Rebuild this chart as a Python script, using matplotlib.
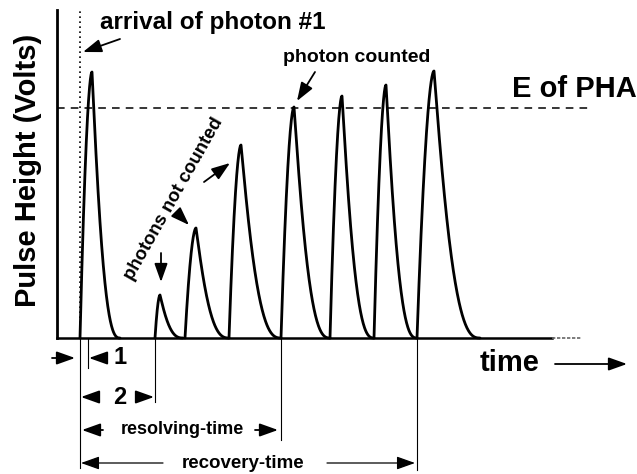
import numpy as np
import matplotlib.pyplot as plt

plt.rcParams['font.family'] = ['Liberation Sans', 'DejaVu Sans']
plt.rcParams['font.weight'] = 'bold'

# pulse data (time units, height units)
pulse_start = [2.3, 9.8, 12.8, 17.2, 22.4, 27.3, 31.7, 36.0]
pulse_peak = [3.5, 10.3, 13.9, 18.4, 23.7, 28.5, 32.9, 37.7]
pulse_end = [6.3, 12.6, 17.2, 22.4, 27.3, 31.7, 36.0, 42.3]
pulse_height = [26.6, 4.3, 11.0, 19.3, 23.1, 24.2, 25.3, 26.7]

threshold = 23.0          # E of PHA
arrival_time = 2.3        # photon #1
dead_time_1 = 3.1         # end of interval 1
dead_time_2 = 9.8         # end of interval 2
resolving_time = 22.4
recovery_time = 36.0


# Форма одного імпульсу: швидкий ріст, спад до нуля
def pulse_curve(t0, tp, t1, h):
    tr = np.linspace(t0, tp, 60)
    u = (tp - tr) / (tp - t0)
    vr = h * (1 - u ** 1.8)
    tf = np.linspace(tp, t1, 120)
    s = (tf - tp) / (t1 - tp)
    vf = h * (1 - s ** 1.06) ** 2.7
    return np.concatenate([tr, tf]), np.concatenate([vr, vf])


def arrow(ax, x0, y0, x1, y1, lw=1.3, scale=16):
    ax.annotate("", xy=(x1, y1), xytext=(x0, y0),
                arrowprops=dict(arrowstyle="-|>,head_length=0.7,head_width=0.25",
                                color="black", lw=lw, mutation_scale=scale,
                                shrinkA=0, shrinkB=0),
                annotation_clip=False)


fig = plt.figure(figsize=(6.37, 4.74), dpi=100)
ax = fig.add_axes([57 / 637, 136 / 474, 580 / 637, 338 / 474])
ax.set_xlim(0, 58)
ax.set_ylim(0, 33.8)
ax.axis("off")

# осі
ax.plot([0, 0], [0, 32.8], color="black", lw=2.0, clip_on=False)
ax.plot([0, 49.5], [0, 0], color="black", lw=1.8, clip_on=False)
ax.plot([49.5, 52.5], [0, 0], color="0.4", lw=1.2, ls=(0, (2, 1)), clip_on=False)

# поріг і момент приходу фотона
ax.plot([0, 53.6], [threshold, threshold], color="black", lw=1.1,
        ls=(0, (5, 4)), clip_on=False)
ax.plot([arrival_time, arrival_time], [0, 32.8], color="black", lw=1.2,
        ls=(0, (1, 2)), clip_on=False)

# імпульси
for t0, tp, t1, h in zip(pulse_start, pulse_peak, pulse_end, pulse_height):
    t, v = pulse_curve(t0, tp, t1, h)
    ax.plot(t, v, color="black", lw=2.0, solid_capstyle="round",
            solid_joinstyle="round", clip_on=False)

# вертикальні мітки під віссю
ax.plot([arrival_time, arrival_time], [0, -13.0], color="black", lw=0.8, clip_on=False)
ax.plot([dead_time_1, dead_time_1], [0, -3.0], color="black", lw=0.8, clip_on=False)
ax.plot([dead_time_2, dead_time_2], [0, -6.4], color="black", lw=0.8, clip_on=False)
ax.plot([resolving_time, resolving_time], [0, -10.2], color="black", lw=0.8, clip_on=False)
ax.plot([recovery_time, recovery_time], [0, -13.2], color="black", lw=0.8, clip_on=False)

# підписи
ax.text(4.3, 31.6, "arrival of photon #1", fontsize=17.5, ha="left", va="center")
arrow(ax, 6.3, 29.9, 2.6, 28.6)
ax.text(22.6, 28.0, "photon counted", fontsize=14, ha="left", va="center")
arrow(ax, 25.8, 26.6, 24.0, 23.7)
ax.text(45.5, 24.9, "E of PHA", fontsize=21, ha="left", va="center")
ax.text(11.7, 13.9, "photons not counted", fontsize=13.3, rotation=60.5,
        rotation_mode="anchor", ha="center", va="center")
arrow(ax, 10.4, 8.5, 10.4, 5.6)
arrow(ax, 12.5, 12.0, 13.2, 11.3)
arrow(ax, 14.7, 15.6, 17.3, 17.5)
ax.text(-2.9, 16.8, "Pulse Height (Volts)", fontsize=21, rotation=90,
        ha="center", va="center")
ax.text(42.3, -2.5, "time", fontsize=21, ha="left", va="center")
arrow(ax, 49.8, -2.6, 57.0, -2.6)

# інтервали
arrow(ax, -0.5, -2.0, 1.8, -2.0)
arrow(ax, 4.8, -2.0, 3.2, -2.0)
ax.text(6.3, -2.0, "1", fontsize=17, ha="center", va="center")
arrow(ax, 3.8, -5.9, 2.4, -5.9)
ax.text(6.3, -5.9, "2", fontsize=17, ha="center", va="center")
arrow(ax, 8.0, -5.9, 9.7, -5.9)
arrow(ax, 4.6, -9.2, 2.5, -9.2)
ax.text(12.55, -9.2, "resolving-time", fontsize=13, ha="center", va="center")
arrow(ax, 19.8, -9.2, 22.1, -9.2)
arrow(ax, 10.6, -12.5, 2.4, -12.5, lw=0.9)
ax.text(18.65, -12.5, "recovery-time", fontsize=13.5, ha="center", va="center")
arrow(ax, 27.0, -12.5, 35.8, -12.5, lw=0.9)

fig.savefig("out.png", dpi=100)
